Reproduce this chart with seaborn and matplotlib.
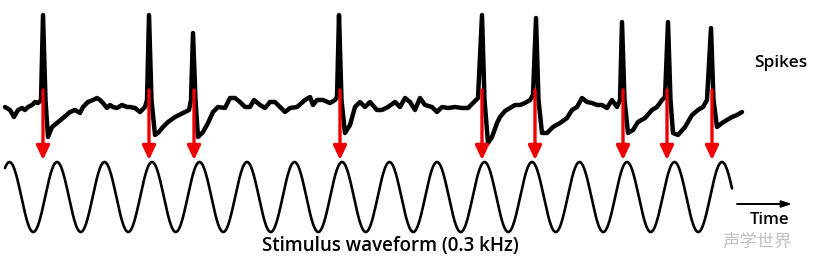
import numpy as np
import pandas as pd
import seaborn as sns
import matplotlib
matplotlib.use("Agg")
import matplotlib.pyplot as plt

# ---- data (time in trace samples, voltage in arbitrary units) ----
trace_t = [5, 10, 14, 18, 22, 25, 28, 32, 35, 38, 41, 43, 45.5, 48, 52, 57, 63, 70, 75, 80,
           83, 88, 93, 97, 100, 103, 107, 110, 113, 117, 122, 127, 130, 135, 140, 145, 147, 149, 151.5, 155,
           158, 163, 168, 175, 183, 189, 191, 193, 195.5, 198, 203, 208, 213, 218, 225, 230, 235, 240, 245, 250,
           254, 260, 265, 270, 275, 280, 285, 290, 297, 305, 310, 313, 317, 323, 330, 335, 337, 339, 341.5, 345,
           350, 355, 360, 365, 370, 377, 382, 388, 395, 400, 405, 410, 415, 420, 425, 432, 437, 442, 448, 455,
           462, 468, 473, 478, 482, 484.5, 488, 492, 497, 500, 505, 510, 515, 520, 525, 530, 533, 536, 538.5, 542,
           547, 553, 560, 567, 572, 577, 582, 587, 592, 597, 602, 607, 612, 617, 620, 622, 624.5, 628, 633, 638,
           645, 652, 657, 662, 665, 668, 670.5, 673, 678, 685, 692, 698, 703, 707, 711, 713.5, 717, 722, 727, 732,
           737, 742]
trace_v = [3, 0, -7, 0, 2, 0, 3, 5, 8, 7, 10, 95, 10, -27, -17, -13, -8, -2, 0, -3,
           3, 8, 10, 12, 10, 7, 2, 5, 3, 2, 5, 3, 3, 2, -2, 3, 10, 95, 10, -25,
           -23, -17, -12, -7, -3, 0, 10, 77, 10, -27, -22, -13, -2, 3, 2, 12, 12, 8, 3, 3,
           10, 5, 2, 8, 8, 3, -2, 2, 3, 10, 13, 5, 10, 10, 7, 10, 13, 95, 10, -23,
           -15, 3, 8, 3, 8, 0, 0, 3, 8, 3, 12, 8, 0, 12, 5, 3, -2, 3, 2, 3,
           2, 2, 7, 12, 95, 10, -33, -27, -13, -7, -1, 2, 5, 5, 7, 10, 15, 92, 10, -23,
           -23, -17, -13, -8, 0, 3, 12, 8, 7, 5, 5, 2, 10, 3, 10, 88, 10, -23, -20, -12,
           -8, 0, 3, 10, 13, 88, 10, -23, -25, -17, -5, 0, 3, 10, 82, 10, -17, -13, -10, -7,
           -5, -2]

spike_times = [43, 149, 194, 340, 482, 535, 623, 667, 712]

stim_label = "Stimulus waveform (0.3 kHz)"
stim_period = 47.5       # one cycle of the 0.3 kHz tone, in trace samples
stim_first_peak = 9.5
stim_start, stim_end = 5, 732

# ---- layout constants ----
STIM_OFFSET = -87
STIM_AMP = 35

sns.set_theme(style="white")
plt.rcParams['font.family'] = ['Open Sans', 'DejaVu Sans']

fig = plt.figure(figsize=(8.24, 2.71), dpi=100)
ax = fig.add_axes([0, 0, 1, 1])

df_trace = pd.DataFrame({"t": trace_t, "v": trace_v})
sns.lineplot(data=df_trace, x="t", y="v", ax=ax, color="black", lw=3.2,
             estimator=None, sort=False, solid_joinstyle="round")

t_stim = np.linspace(stim_start, stim_end, 1500)
s_stim = STIM_OFFSET + STIM_AMP * np.cos(2 * np.pi * (t_stim - stim_first_peak) / stim_period)
df_stim = pd.DataFrame({"t": t_stim, "v": s_stim})
sns.lineplot(data=df_stim, x="t", y="v", ax=ax, color="black", lw=1.9,
             estimator=None, sort=False)

for st in spike_times:
    ax.annotate("", xy=(st, STIM_OFFSET + STIM_AMP + 2), xytext=(st, 20),
                arrowprops=dict(arrowstyle="-|>,head_length=0.7,head_width=0.33",
                                color="#ee0000", lw=2.4, shrinkA=0, shrinkB=0,
                                mutation_scale=12))

# time arrow
ax.annotate("", xy=(792, -94), xytext=(737, -94),
            arrowprops=dict(arrowstyle="-|>,head_length=0.6,head_width=0.2",
                            color="black", lw=1.4, shrinkA=0, shrinkB=0, mutation_scale=10))

ax.text(781, 47, "Spikes", ha="center", va="center", fontsize=12.5,
        fontweight="semibold", color="black")
ax.text(770, -110, "Time", ha="center", va="center", fontsize=12,
        fontweight="semibold", color="black")
ax.text(390, -136, stim_label, ha="center", va="center", fontsize=13.5,
        fontweight="semibold", color="black")
ax.text(757, -132, "声学世界", ha="center", va="center", fontsize=12.5,
        color="#b8b8b8", alpha=0.85, family=['Noto Sans CJK SC', 'DejaVu Sans'])

ax.set_xlim(0, 824)
ax.set_ylim(-161, 110)
ax.set_axis_off()
ax.set_xlabel("")
ax.set_ylabel("")

fig.savefig("out.png", dpi=100, facecolor="white")
